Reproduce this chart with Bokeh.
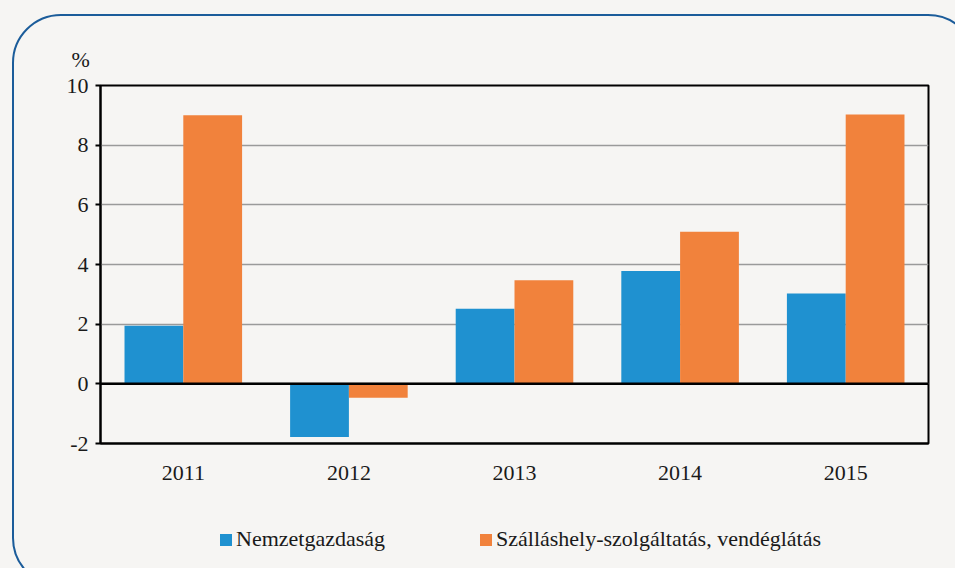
from bokeh.plotting import figure
from bokeh.layouts import column
from bokeh.models import (Range1d, FactorRange, FixedTicker, Span, Legend, LegendItem,
                          ColumnDataSource, PrintfTickFormatter)
from bokeh.transform import dodge
from bokeh.embed import file_html
from bokeh.resources import INLINE

years = ["2011", "2012", "2013", "2014", "2015"]
nemzetgazdasag = [1.95, -1.78, 2.52, 3.78, 3.03]
szallashely = [9.0, -0.47, 3.47, 5.1, 9.03]
series_names = ["Nemzetgazdaság", "Szálláshely-szolgáltatás, vendéglátás"]
y_ticks = [-2, 0, 2, 4, 6, 8, 10]
unit_label = "%"

BG = "#f6f5f3"
BLUE = "#1f91d0"
ORANGE = "#f1823c"
FRAME_BLUE = "%231b5c9a"
FONT = "Liberation Serif"
TXT = "#1a1a1a"
FS = "22px"

border_svg = ("url(\"data:image/svg+xml;utf8,<svg xmlns='http://www.w3.org/2000/svg' "
              "width='955' height='568'><rect x='13' y='15' width='963' height='571' "
              "rx='48' ry='48' fill='none' stroke='" + FRAME_BLUE + "' stroke-width='2'/></svg>\")")

src = ColumnDataSource(dict(year=years, a=nemzetgazdasag, b=szallashely))

def bars(fig):
    ra = fig.vbar(x=dodge("year", -0.1775, range=fig.x_range), top="a", width=0.355,
                  source=src, fill_color=BLUE, line_color=None)
    rb = fig.vbar(x=dodge("year", 0.1775, range=fig.x_range), top="b", width=0.355,
                  source=src, fill_color=ORANGE, line_color=None)
    return ra, rb

# ---- main chart ----
p = figure(width=955, height=500, x_range=FactorRange(*years), y_range=Range1d(-2, 10),
           output_backend="svg", toolbar_location=None,
           min_border_left=100, min_border_right=27, min_border_top=85, min_border_bottom=57,
           background_fill_color=BG, border_fill_color=None)

bars(p)

p.outline_line_color = "black"
p.outline_line_width = 2

p.xgrid.grid_line_color = None
p.ygrid.grid_line_color = "#9a9a9a"
p.ygrid.grid_line_width = 1.5
p.ygrid.ticker = FixedTicker(ticks=y_ticks)

p.yaxis.ticker = FixedTicker(ticks=y_ticks)
p.yaxis.formatter = PrintfTickFormatter(format="%d")
p.yaxis.axis_line_color = "black"
p.yaxis.axis_line_width = 2
p.yaxis.major_tick_line_color = "black"
p.yaxis.major_tick_line_width = 2
p.yaxis.major_tick_out = 5
p.yaxis.major_tick_in = 0
p.yaxis.minor_tick_line_color = None
p.yaxis.major_label_standoff = 7
p.yaxis.major_label_text_font = FONT
p.yaxis.major_label_text_font_size = FS
p.yaxis.major_label_text_color = TXT

p.xaxis.axis_line_color = "black"
p.xaxis.axis_line_width = 2
p.xaxis.major_tick_line_color = None
p.xaxis.minor_tick_line_color = None
p.xaxis.major_label_standoff = 16
p.xaxis.major_label_text_font = FONT
p.xaxis.major_label_text_font_size = FS
p.xaxis.major_label_text_color = TXT

zero = Span(location=0, dimension="width", line_color="black", line_width=2.5)
p.add_layout(zero)

p.title.text = unit_label
p.title.align = "left"
p.title.offset = -29
p.title.standoff = 27
p.title.text_font = FONT
p.title.text_font_size = FS
p.title.text_font_style = "normal"
p.title.text_color = TXT

# ---- legend strip (bars kept out of view, only the legend shows) ----
lf = figure(width=955, height=68, x_range=FactorRange(*years), y_range=Range1d(100, 101),
            output_backend="svg", toolbar_location=None,
            min_border=0, background_fill_color=None, border_fill_color=None,
            x_axis_location=None, y_axis_location=None)
lf.outline_line_color = None
lf.grid.visible = False
la, lb = bars(lf)

def make_legend(label, renderer, loc):
    return Legend(items=[LegendItem(label=label, renderers=[renderer])], location=loc,
                  border_line_color=None, background_fill_alpha=0, padding=0, margin=0,
                  glyph_width=15, glyph_height=15, label_standoff=3,
                  label_text_font=FONT, label_text_font_size=FS, label_text_color=TXT)

lf.add_layout(make_legend(series_names[0], la, (118, 16)))
lf.add_layout(make_legend(series_names[1], lb, (378, 16)))

layout = column(p, lf, spacing=0,
                styles={"background-color": BG, "background-image": border_svg,
                        "background-repeat": "no-repeat"})

open("out.html", "w").write(file_html(layout, INLINE))
